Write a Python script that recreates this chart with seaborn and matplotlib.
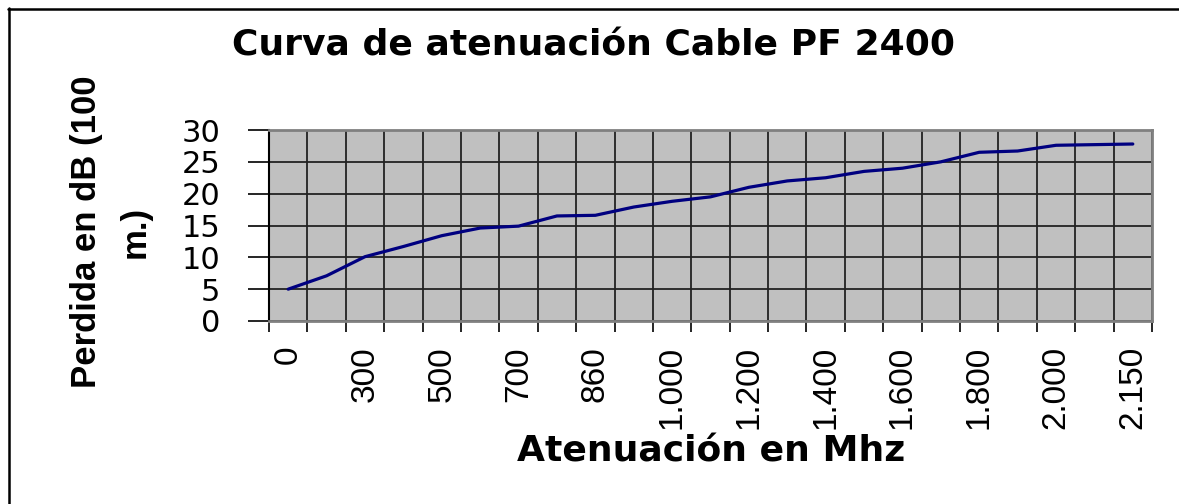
import numpy as np
import pandas as pd
import matplotlib
matplotlib.use("Agg")
import matplotlib.pyplot as plt
from matplotlib.lines import Line2D
import seaborn as sns

# ---- data ----
categories = ["0", "150", "300", "400", "500", "600", "700", "800", "860", "900",
              "1.000", "1.100", "1.200", "1.300", "1.400", "1.500", "1.600",
              "1.700", "1.800", "1.900", "2.000", "2.100", "2.150"]
losses = [5.0, 7.1, 10.1, 11.7, 13.4, 14.6, 14.9, 16.5, 16.6, 17.9, 18.8,
          19.5, 21.0, 22.0, 22.5, 23.5, 24.0, 25.0, 26.5, 26.7, 27.6, 27.7, 27.8]
yticks = [0, 5, 10, 15, 20, 25, 30]

title = "Curva de atenuación Cable PF 2400"
xlabel = "Atenuación en Mhz"
ylabel = "Perdida en dB (100\nm.)"

df = pd.DataFrame({"freq": categories, "loss": losses})

sns.set_theme(style="white")
plt.rcParams["font.family"] = ["DejaVu Sans"]
plt.rcParams["text.color"] = "black"
plt.rcParams["xtick.color"] = "black"
plt.rcParams["ytick.color"] = "black"
plt.rcParams["axes.labelcolor"] = "black"

W, H = 1179, 504
fig = plt.figure(figsize=(W / 100, H / 100), dpi=100)
fig.patch.set_facecolor("white")

L, R, T, B = 269, 1152, 130, 321
ax = fig.add_axes([L / W, 1 - B / H, (R - L) / W, (B - T) / H])
ax.set_facecolor("#C0C0C0")

sns.lineplot(data=df, x="freq", y="loss", sort=False, color="#000080",
             linewidth=2.3, ax=ax, zorder=5)

n = len(categories)
ax.set_xlim(-0.5, n - 0.5)
ax.set_ylim(0, 30)

# x: boundaries as major ticks (grid + tick marks), labels at centers (minor)
ax.set_xticks(np.arange(n + 1) - 0.5)
ax.set_xticklabels([])
ax.set_xticks(np.arange(n), minor=True)
ax.set_xticklabels([c if i % 2 == 0 else "" for i, c in enumerate(categories)],
                   minor=True, rotation=90, fontsize=24, color="black",
                   family=["Liberation Sans", "DejaVu Sans"], va="top", ha="center")
ax.tick_params(axis="x", which="major", length=8, width=1.2, color="black",
               direction="out", bottom=True)
ax.tick_params(axis="x", which="minor", length=0, pad=18, bottom=True)

ax.set_yticks(yticks)
ax.set_yticklabels([str(v) for v in yticks], fontsize=22, color="black")
ax.tick_params(axis="y", which="major", length=15, width=1.2, color="black",
               direction="out", left=True, pad=20)

ax.grid(True, which="major", color="#222222", linewidth=1.3)
ax.set_axisbelow(True)
for side, sp in ax.spines.items():
    sp.set_visible(True)
    sp.set_color("#808080")
    sp.set_linewidth(2)
ax.spines["left"].set_color("black")
ax.spines["left"].set_linewidth(1.5)

ax.set_xlabel("")
ax.set_ylabel("")

fig.text(593 / W, 1 - 45 / H, title, ha="center", va="center",
         fontsize=26, fontweight="bold", color="black")
fig.text(711 / W, 1 - 452 / H, xlabel, ha="center", va="center",
         fontsize=26, fontweight="bold", color="black")
fig.text(111 / W, 1 - 232 / H, ylabel, ha="center", va="center", rotation=90,
         fontsize=25, fontweight="bold", family=["Liberation Sans", "DejaVu Sans"],
         multialignment="center", linespacing=1.6, color="black")

# outer chart frame (top and left edges visible)
fig.add_artist(Line2D([8.5 / W, 8.5 / W], [0, 1 - 8 / H], transform=fig.transFigure,
                      color="black", linewidth=1.8))
fig.add_artist(Line2D([8 / W, 1], [1 - 8.5 / H, 1 - 8.5 / H], transform=fig.transFigure,
                      color="black", linewidth=1.8))

fig.savefig("out.png", dpi=100, facecolor="white")
